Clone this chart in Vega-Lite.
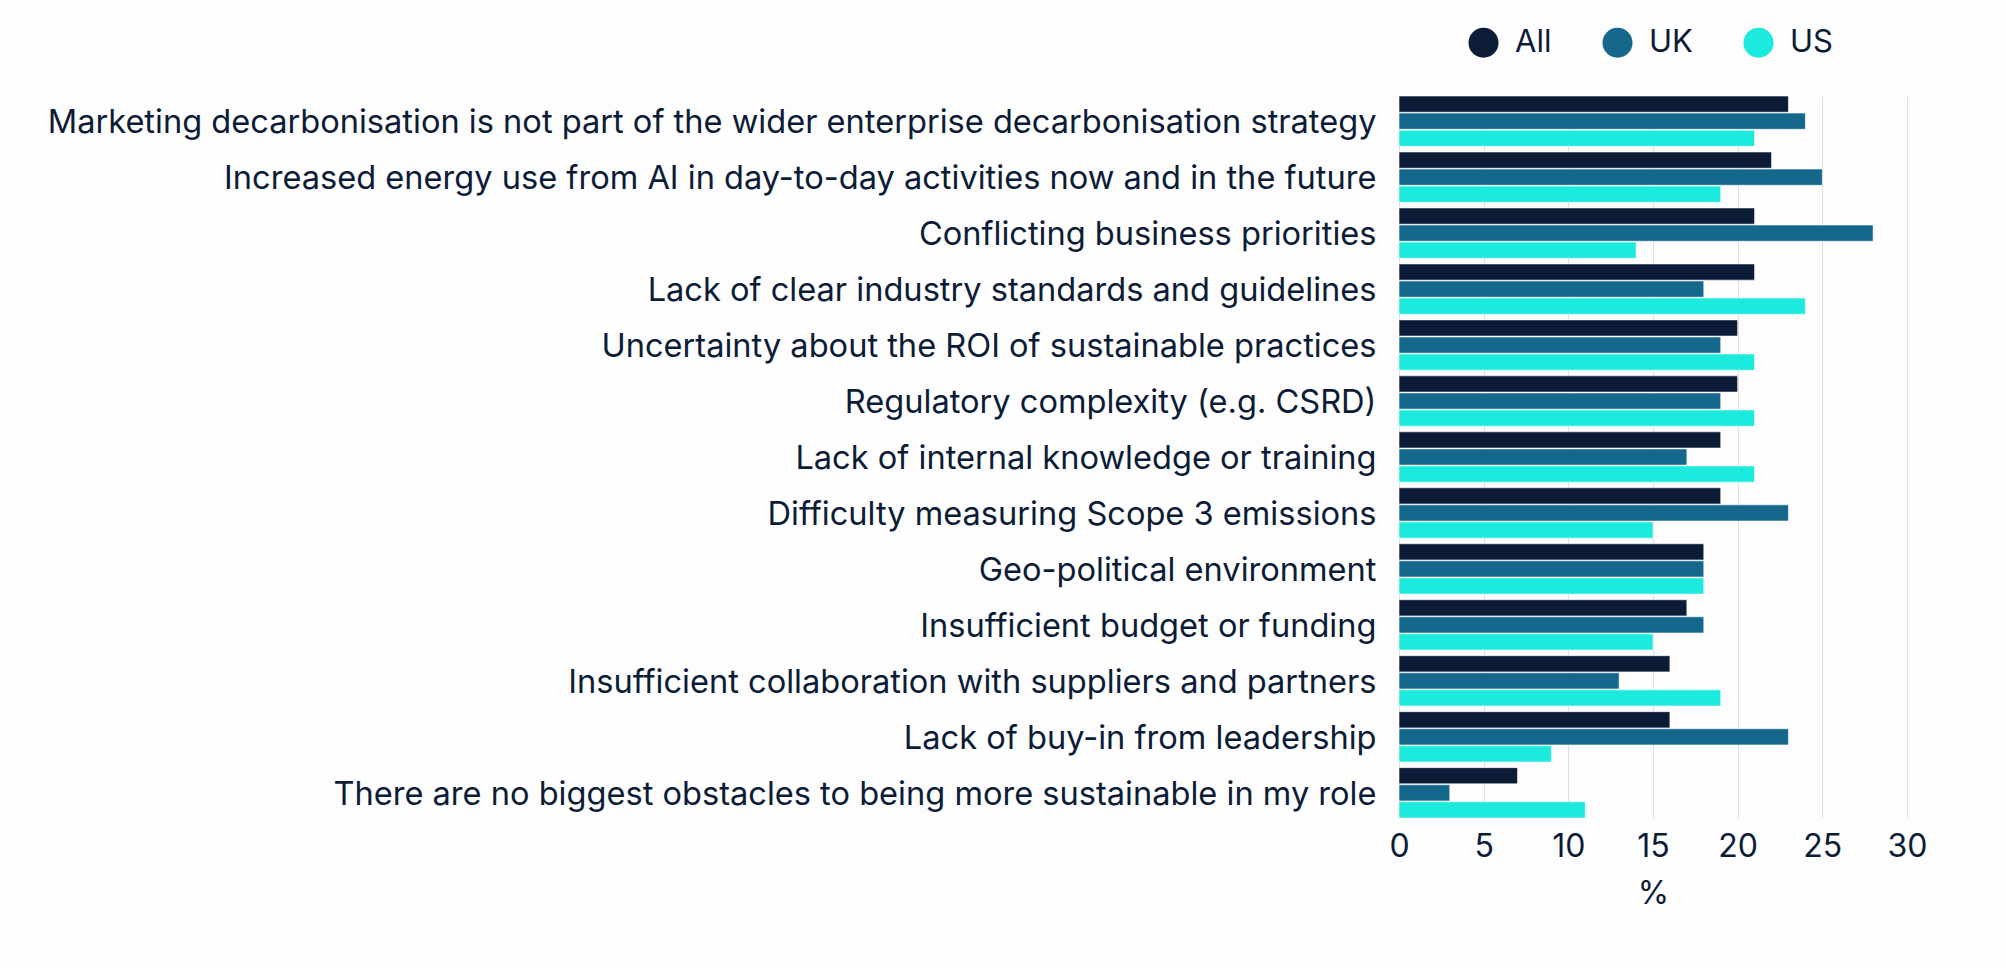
{
  "$schema": "https://vega.github.io/schema/vega-lite/v6.json",
  "width": 508,
  "height": 722,
  "autosize": {"type": "none"},
  "padding": {"left": 1399, "top": 96, "right": 99, "bottom": 150},
  "background": "#fdfdfd",
  "config": {
    "font": "Inter",
    "view": {"stroke": null},
    "axis": {"labelColor": "#0c1c36", "titleColor": "#0c1c36"}
  },
  "data": {
    "values": [
      {"obstacle": "Marketing decarbonisation is not part of the wider enterprise decarbonisation strategy", "group": "All", "value": 23},
      {"obstacle": "Marketing decarbonisation is not part of the wider enterprise decarbonisation strategy", "group": "UK", "value": 24},
      {"obstacle": "Marketing decarbonisation is not part of the wider enterprise decarbonisation strategy", "group": "US", "value": 21},
      {"obstacle": "Increased energy use from AI in day-to-day activities now and in the future", "group": "All", "value": 22},
      {"obstacle": "Increased energy use from AI in day-to-day activities now and in the future", "group": "UK", "value": 25},
      {"obstacle": "Increased energy use from AI in day-to-day activities now and in the future", "group": "US", "value": 19},
      {"obstacle": "Conflicting business priorities", "group": "All", "value": 21},
      {"obstacle": "Conflicting business priorities", "group": "UK", "value": 28},
      {"obstacle": "Conflicting business priorities", "group": "US", "value": 14},
      {"obstacle": "Lack of clear industry standards and guidelines", "group": "All", "value": 21},
      {"obstacle": "Lack of clear industry standards and guidelines", "group": "UK", "value": 18},
      {"obstacle": "Lack of clear industry standards and guidelines", "group": "US", "value": 24},
      {"obstacle": "Uncertainty about the ROI of sustainable practices", "group": "All", "value": 20},
      {"obstacle": "Uncertainty about the ROI of sustainable practices", "group": "UK", "value": 19},
      {"obstacle": "Uncertainty about the ROI of sustainable practices", "group": "US", "value": 21},
      {"obstacle": "Regulatory complexity (e.g. CSRD)", "group": "All", "value": 20},
      {"obstacle": "Regulatory complexity (e.g. CSRD)", "group": "UK", "value": 19},
      {"obstacle": "Regulatory complexity (e.g. CSRD)", "group": "US", "value": 21},
      {"obstacle": "Lack of internal knowledge or training", "group": "All", "value": 19},
      {"obstacle": "Lack of internal knowledge or training", "group": "UK", "value": 17},
      {"obstacle": "Lack of internal knowledge or training", "group": "US", "value": 21},
      {"obstacle": "Difficulty measuring Scope 3 emissions", "group": "All", "value": 19},
      {"obstacle": "Difficulty measuring Scope 3 emissions", "group": "UK", "value": 23},
      {"obstacle": "Difficulty measuring Scope 3 emissions", "group": "US", "value": 15},
      {"obstacle": "Geo-political environment", "group": "All", "value": 18},
      {"obstacle": "Geo-political environment", "group": "UK", "value": 18},
      {"obstacle": "Geo-political environment", "group": "US", "value": 18},
      {"obstacle": "Insufficient budget or funding", "group": "All", "value": 17},
      {"obstacle": "Insufficient budget or funding", "group": "UK", "value": 18},
      {"obstacle": "Insufficient budget or funding", "group": "US", "value": 15},
      {"obstacle": "Insufficient collaboration with suppliers and partners", "group": "All", "value": 16},
      {"obstacle": "Insufficient collaboration with suppliers and partners", "group": "UK", "value": 13},
      {"obstacle": "Insufficient collaboration with suppliers and partners", "group": "US", "value": 19},
      {"obstacle": "Lack of buy-in from leadership", "group": "All", "value": 16},
      {"obstacle": "Lack of buy-in from leadership", "group": "UK", "value": 23},
      {"obstacle": "Lack of buy-in from leadership", "group": "US", "value": 9},
      {"obstacle": "There are no biggest obstacles to being more sustainable in my role", "group": "All", "value": 7},
      {"obstacle": "There are no biggest obstacles to being more sustainable in my role", "group": "UK", "value": 3},
      {"obstacle": "There are no biggest obstacles to being more sustainable in my role", "group": "US", "value": 11}
    ]
  },
  "mark": {"type": "bar", "stroke": "white", "strokeWidth": 1, "strokeOpacity": 0.6},
  "encoding": {
    "y": {
      "field": "obstacle",
      "type": "nominal",
      "sort": null,
      "scale": {"paddingInner": 0.1, "paddingOuter": 0},
      "axis": {
        "title": null,
        "ticks": false,
        "domain": false,
        "grid": false,
        "labelFontSize": 32.6,
        "labelPadding": 23,
        "labelOffset": 2,
        "labelLimit": 0
      }
    },
    "x": {
      "field": "value",
      "type": "quantitative",
      "scale": {"domain": [0, 30], "nice": false},
      "axis": {
        "title": "%",
        "values": [0, 5, 10, 15, 20, 25, 30],
        "ticks": false,
        "domain": false,
        "grid": true,
        "gridColor": "#dedede",
        "labelFontSize": 32,
        "labelFlush": false,
        "labelPadding": 13,
        "titleFontSize": 32,
        "titleFontWeight": "normal",
        "titlePadding": 16
      }
    },
    "yOffset": {
      "field": "group",
      "type": "nominal",
      "sort": ["All", "UK", "US"],
      "scale": {"paddingInner": 0.05}
    },
    "color": {
      "field": "group",
      "type": "nominal",
      "scale": {"domain": ["All", "UK", "US"], "range": ["#0d1c36", "#15688b", "#1beadc"]},
      "legend": {
        "orient": "none",
        "legendX": 69,
        "legendY": -69,
        "direction": "horizontal",
        "title": null,
        "symbolType": "circle",
        "symbolSize": 900,
        "symbolStrokeWidth": 0,
        "symbolOpacity": 1,
        "labelFontSize": 31,
        "labelColor": "#0c1c36",
        "labelOffset": 16,
        "columnPadding": 50,
        "padding": 0
      }
    }
  }
}
